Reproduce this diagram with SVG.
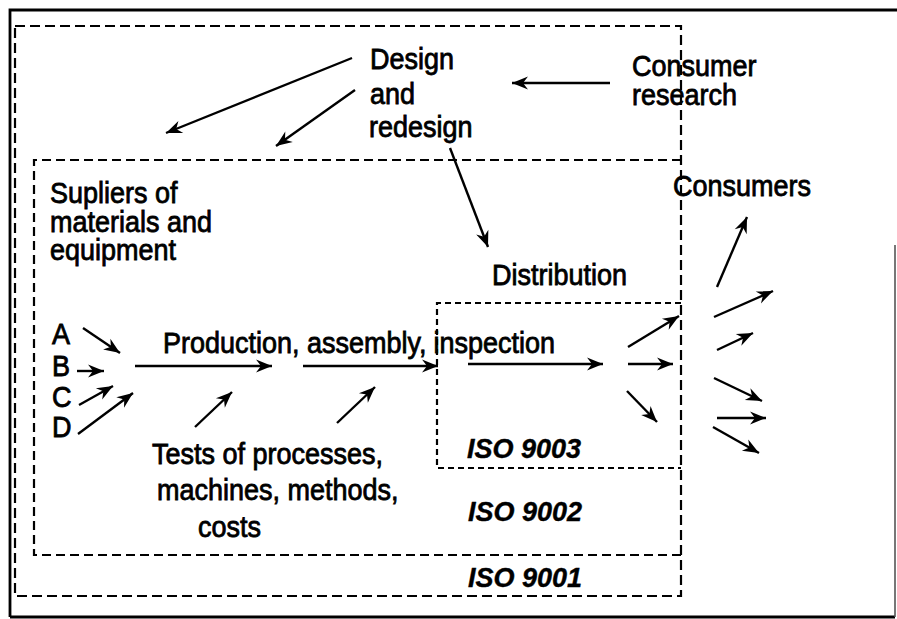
<svg xmlns="http://www.w3.org/2000/svg" width="897" height="619" viewBox="0 0 897 619">
  <defs>
    <marker id="head" markerUnits="userSpaceOnUse" markerWidth="22" markerHeight="16" viewBox="-18 -8 20 16" refX="0" refY="0" orient="auto">
      <path d="M0,0 L-16,-6.5 L-11,0 L-16,6.5 Z" fill="#000"/>
    </marker>
    <style>
      .frame { fill: none; stroke: #000; stroke-width: 2.8; }
      .box1 { fill: none; stroke: #000; stroke-width: 2.2; stroke-dasharray: 10 5; }
      .box2 { fill: none; stroke: #000; stroke-width: 2.2; stroke-dasharray: 9 5; }
      .box3 { fill: none; stroke: #000; stroke-width: 2.2; stroke-dasharray: 6 4; }
      .lbl { font-family: "Liberation Sans", Arial, sans-serif; font-size: 27px; fill: #000; stroke: #000; stroke-width: 0.75; }
      .iso { font-family: "Liberation Sans", Arial, sans-serif; font-size: 27px; font-weight: bold; font-style: italic; fill: #000; stroke: #000; stroke-width: 0.4; }
      .conn line { stroke: #000; stroke-width: 2.4; marker-end: url(#head); }
    </style>
  </defs>
  <rect width="897" height="619" fill="#fff"/>

  <!-- outer frame -->
  <g id="frame">
    <path class="frame" d="M10,617 V10 H897"/>
    <path class="frame" d="M10,617 H895"/>
    <path d="M895,245 V617" stroke="#555" stroke-width="1.6" fill="none"/>
  </g>

  <!-- standard boundaries -->
  <g id="iso9001">
    <rect class="box1" x="15" y="26" width="666" height="570"/>
    <text class="iso" x="468" y="587">ISO 9001</text>
  </g>
  <g id="iso9002">
    <path class="box2" d="M681,160 H34 V555 H681"/>
    <text class="iso" x="468" y="521">ISO 9002</text>
  </g>
  <g id="iso9003">
    <path class="box3" d="M681,303 H437 V468 H681"/>
    <text class="iso" x="467" y="458">ISO 9003</text>
  </g>

  <!-- labels -->
  <g id="design">
    <text class="lbl" transform="translate(370 69) scale(1 1.1)">Design</text>
    <text class="lbl" transform="translate(370 104) scale(1 1.1)">and</text>
    <text class="lbl" transform="translate(369 137) scale(1 1.1)">redesign</text>
  </g>
  <g id="consumer-research">
    <text class="lbl" transform="translate(632 76) scale(1 1.1)">Consumer</text>
    <text class="lbl" transform="translate(632 105) scale(1 1.1)">research</text>
  </g>
  <g id="consumers">
    <text class="lbl" transform="translate(673 196) scale(1 1.1)">Consumers</text>
  </g>
  <g id="suppliers">
    <text class="lbl" transform="translate(50 203) scale(1 1.1)">Supliers of</text>
    <text class="lbl" transform="translate(50 232) scale(1 1.1)">materials and</text>
    <text class="lbl" transform="translate(50 260) scale(1 1.1)">equipment</text>
  </g>
  <g id="distribution">
    <text class="lbl" transform="translate(492 285) scale(1 1.1)">Distribution</text>
  </g>
  <g id="production">
    <text class="lbl" transform="translate(163 353) scale(1 1.1)">Production, assembly,<tspan dx="7">inspection</tspan></text>
  </g>
  <g id="sources">
    <text class="lbl" transform="translate(52 344) scale(1 1.1)">A</text>
    <text class="lbl" transform="translate(52 376) scale(1 1.1)">B</text>
    <text class="lbl" transform="translate(52 407) scale(1 1.1)">C</text>
    <text class="lbl" transform="translate(52 437) scale(1 1.1)">D</text>
  </g>
  <g id="tests">
    <text class="lbl" transform="translate(152 464) scale(1 1.1)">Tests of processes,</text>
    <text class="lbl" transform="translate(157 500) scale(1 1.1)">machines, methods,</text>
    <text class="lbl" transform="translate(198 537) scale(1 1.1)">costs</text>
  </g>

  <!-- connectors -->
  <g id="connectors" class="conn">
    <line x1="352" y1="58" x2="166" y2="133"/>
    <line x1="355" y1="90" x2="276" y2="146"/>
    <line x1="610" y1="83" x2="512" y2="83"/>
    <line x1="450" y1="148" x2="488" y2="247"/>
    <line x1="83" y1="328" x2="120" y2="353"/>
    <line x1="77" y1="371" x2="104" y2="371"/>
    <line x1="79" y1="405" x2="113" y2="386"/>
    <line x1="78" y1="434" x2="133" y2="393"/>
    <line x1="135" y1="366" x2="272" y2="366"/>
    <line x1="303" y1="366" x2="438" y2="366"/>
    <line x1="468" y1="364" x2="603" y2="364"/>
    <line x1="195" y1="427" x2="232" y2="392"/>
    <line x1="337" y1="423" x2="375" y2="387"/>
    <line x1="628" y1="347" x2="679" y2="316"/>
    <line x1="628" y1="364" x2="673" y2="364"/>
    <line x1="627" y1="391" x2="657" y2="422"/>
    <line x1="717" y1="287" x2="747" y2="217"/>
    <line x1="714" y1="317" x2="773" y2="291"/>
    <line x1="717" y1="350" x2="753" y2="333"/>
    <line x1="714" y1="378" x2="762" y2="401"/>
    <line x1="717" y1="418" x2="766" y2="418"/>
    <line x1="713" y1="427" x2="759" y2="453"/>
  </g>
</svg>
